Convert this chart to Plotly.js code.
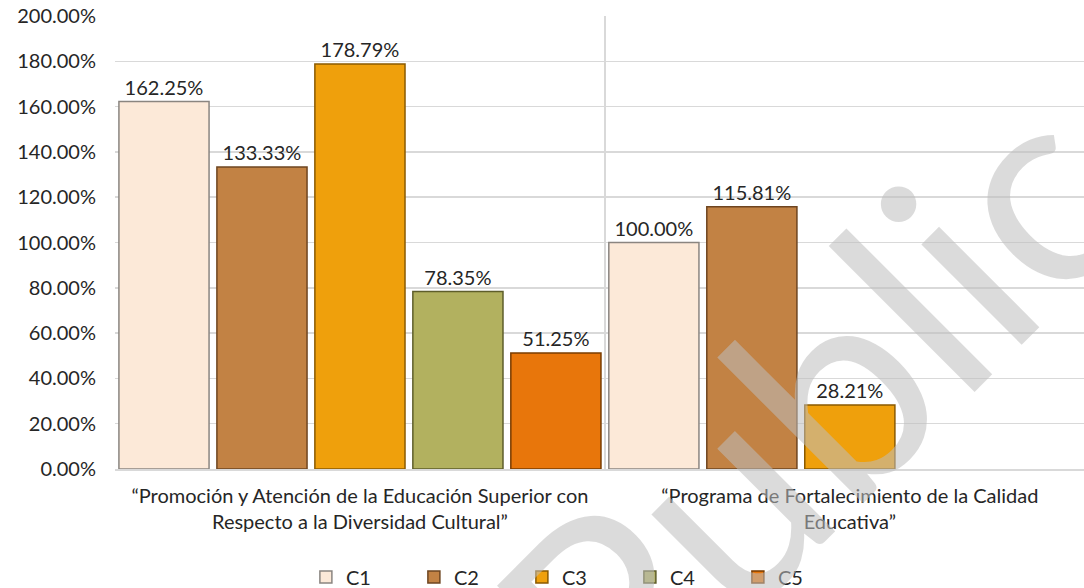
<!DOCTYPE html>
<html>
<head>
<meta charset="utf-8">
<script src="https://cdn.plot.ly/plotly-3.0.1.min.js"></script>
<style>html,body{margin:0;padding:0;background:#fff;}#chart{width:1084px;height:588px;}</style>
</head>
<body>
<div id="chart"></div>
<script>
const categories = [
  "“Promoción y Atención de la Educación Superior con<br>Respecto a la Diversidad Cultural”",
  "“Programa de Fortalecimiento de la Calidad<br>Educativa”"
];
const seriesNames = ["C1", "C2", "C3", "C4", "C5"];
const C1 = [162.25, 100.00];
const C2 = [133.33, 115.81];
const C3 = [178.79, 28.21];
const C4 = [78.35, null];
const C5 = [51.25, null];
const yTicks = [0, 20, 40, 60, 80, 100, 120, 140, 160, 180, 200];

const seriesValues = [C1, C2, C3, C4, C5];
const fills = ["#FCE9D8", "#C28244", "#EFA00C", "#B2B15F", "#E8760B"];
const edges = ["#8a8580", "#6e4520", "#8a5a00", "#5e5e2a", "#7a3c00"];
const FONT = "Lato, 'Open Sans', sans-serif";
const FS = 20;

const traces = seriesValues.map((vals, k) => ({
  type: "bar",
  name: seriesNames[k],
  x: categories,
  y: vals,
  marker: {color: fills[k], line: {color: edges[k], width: 1.5}},
  text: vals.map(v => v == null ? "" : v.toFixed(2) + "%"),
  textposition: "outside",
  textfont: {family: FONT, size: FS, color: "#262626"},
  cliponaxis: false,
  hoverinfo: "skip"
}));

const layout = {
  width: 1084, height: 588,
  margin: {l: 115, r: 0, t: 16, b: 119, autoexpand: false},
  paper_bgcolor: "#ffffff",
  plot_bgcolor: "#ffffff",
  barmode: "group",
  bargap: 0.0,
  bargroupgap: 0.08,
  font: {family: FONT, size: FS, color: "#262626"},
  showlegend: true,
  legend: {
    orientation: "h", xref: "paper", x: 0.197, xanchor: "left",
    yref: "container", y: 0.0187, yanchor: "middle",
    font: {family: FONT, size: FS, color: "#262626"},
    entrywidth: 63, itemwidth: 30, traceorder: "normal"
  },
  xaxis: {
    type: "category",
    range: [-0.5, 1.478],
    tickson: "boundaries",
    showgrid: true, gridcolor: "#d9d9d9", gridwidth: 1.5,
    ticks: "", showline: true, linecolor: "#d9d9d9", linewidth: 1.5,
    zeroline: false,
    ticklabelstandoff: 8,
    tickfont: {family: FONT, size: FS, color: "#262626"},
    fixedrange: true
  },
  yaxis: {
    range: [0, 200],
    tickvals: yTicks,
    ticktext: yTicks.map(v => v.toFixed(2) + "%"),
    showgrid: true, gridcolor: "#d9d9d9", gridwidth: 1.5,
    zeroline: false, showline: false, ticks: "",
    ticklabelstandoff: 18,
    tickfont: {family: FONT, size: FS, color: "#262626"},
    fixedrange: true
  },
  annotations: [{
    text: "Public", xref: "paper", yref: "paper", x: 0.716, y: 0.141,
    xanchor: "center", yanchor: "middle",
    showarrow: false, textangle: -45,
    font: {family: "Lato, sans-serif", size: 280, color: "rgba(190,190,190,0.55)"}
  }]
};

Plotly.newPlot("chart", traces, layout, {displayModeBar: false, staticPlot: true});
</script>
</body>
</html>
